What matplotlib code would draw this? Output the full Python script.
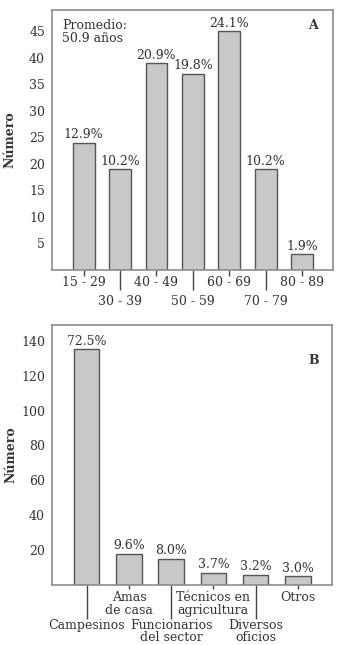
import matplotlib
matplotlib.use("Agg")
import matplotlib.pyplot as plt
import numpy as np

# ---- data ----
age_groups = ["15 - 29", "30 - 39", "40 - 49", "50 - 59", "60 - 69", "70 - 79", "80 - 89"]
age_counts = [24, 19, 39, 37, 45, 19, 3]
age_pct = ["12.9%", "10.2%", "20.9%", "19.8%", "24.1%", "10.2%", "1.9%"]

occupations = ["Campesinos", "Amas\nde casa", "Funcionarios\ndel sector",
               "Técnicos en\nagricultura", "Diversos\noficios", "Otros"]
occ_counts = [135, 18, 15, 7, 6, 5]
occ_pct = ["72.5%", "9.6%", "8.0%", "3.7%", "3.2%", "3.0%"]

yticks_A = [5, 10, 15, 20, 25, 30, 35, 40, 45]
yticks_B = [20, 40, 60, 80, 100, 120, 140]

# ---- style ----
plt.rcParams['font.family'] = ['DejaVu Serif']
FS = 9
TXT = '#333333'
BAR_FACE = '#c8c8c8'
BAR_EDGE = '#555555'
SPINE = '#8c8c8c'

fig = plt.figure(figsize=(3.47, 6.45), dpi=100)
axA = fig.add_axes([0.1499, 0.5814, 0.8098, 0.4031])
axB = fig.add_axes([0.1499, 0.093, 0.806, 0.4031])


def style_axes(ax):
    for s in ax.spines.values():
        s.set_color(SPINE)
        s.set_linewidth(1.2)
    ax.tick_params(axis='y', length=0, pad=5, labelsize=FS, labelcolor=TXT)
    ax.tick_params(axis='x', which='both', color='#444444', width=1.0,
                   labelsize=FS, labelcolor=TXT)
    ax.set_ylabel("Número", fontsize=9, fontweight='bold', color=TXT)
    ax.yaxis.set_label_coords(-0.125, 0.5)


# ---- Panel A ----
xa = np.arange(len(age_groups))
barsA = axA.bar(xa, age_counts, width=0.6, color=BAR_FACE, edgecolor=BAR_EDGE, linewidth=1.0)
for b, t in zip(barsA, age_pct):
    axA.annotate(t, (b.get_x() + b.get_width() / 2, b.get_height()),
                 xytext=(0, 1), textcoords='offset points',
                 ha='center', va='bottom', fontsize=FS, color=TXT)
axA.set_xlim(-0.87, 6.85)
axA.set_ylim(0, 49)
axA.set_yticks(yticks_A)
axA.set_xticks(xa[0::2], age_groups[0::2])
axA.set_xticks(xa[1::2], age_groups[1::2], minor=True)
style_axes(axA)
axA.tick_params(axis='x', which='major', length=4, pad=0.5)
axA.tick_params(axis='x', which='minor', length=14.5, pad=3.5)
axA.text(0.035, 0.965, "Promedio:\n50.9 años", transform=axA.transAxes,
         ha='left', va='top', fontsize=FS, color=TXT, linespacing=0.95)
axA.text(0.93, 0.942, "A", transform=axA.transAxes, ha='center', va='center',
         fontsize=9, fontweight='bold', color=TXT)

# ---- Panel B ----
xb = np.arange(len(occupations))
barsB = axB.bar(xb, occ_counts, width=0.6, color=BAR_FACE, edgecolor=BAR_EDGE, linewidth=1.0)
for b, t in zip(barsB, occ_pct):
    axB.annotate(t, (b.get_x() + b.get_width() / 2, b.get_height()),
                 xytext=(0, 1), textcoords='offset points',
                 ha='center', va='bottom', fontsize=FS, color=TXT)
axB.set_xlim(-0.82, 5.8)
axB.set_ylim(0, 149)
axB.set_yticks(yticks_B)
axB.set_xticks(xb[0::2], occupations[0::2])
axB.set_xticks(xb[1::2], occupations[1::2], minor=True)
style_axes(axB)
axB.tick_params(axis='x', which='major', length=24.5, pad=0.3)
axB.tick_params(axis='x', which='minor', length=3, pad=1)
for lbl in axB.get_xticklabels():
    lbl.set_linespacing(0.88)
for lbl in axB.get_xticklabels(minor=True):
    lbl.set_linespacing(1.0)
axB.text(0.934, 0.865, "B", transform=axB.transAxes, ha='center', va='center',
         fontsize=9, fontweight='bold', color=TXT)

fig.savefig("out.png", dpi=100)
